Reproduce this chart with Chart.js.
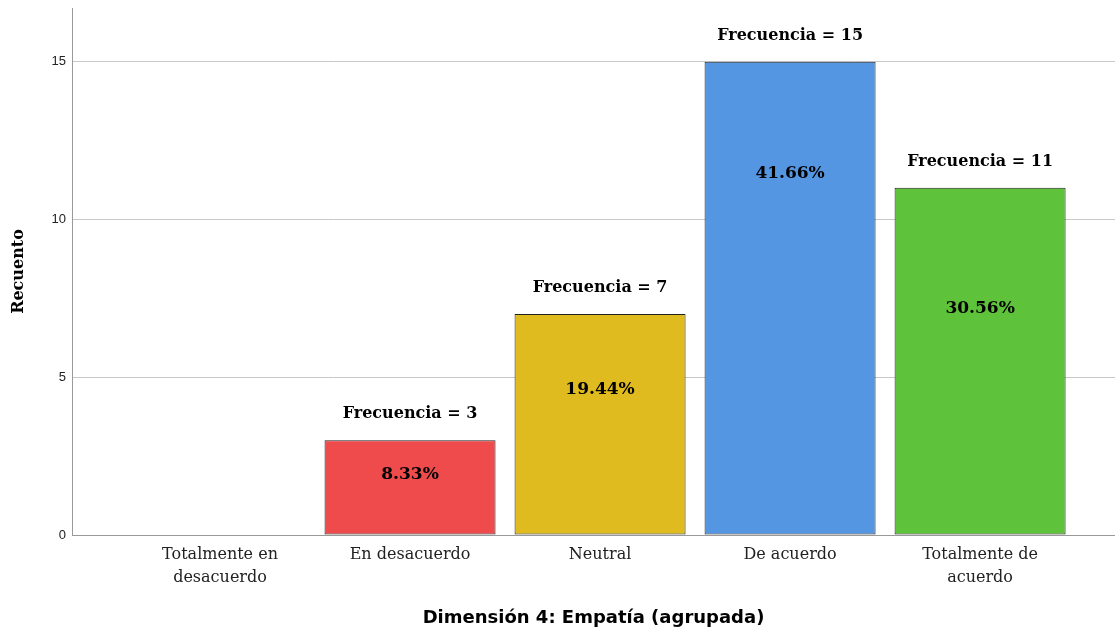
<!DOCTYPE html>
<html>
<head>
<meta charset="utf-8">
<script src="https://cdn.jsdelivr.net/npm/chart.js@4"></script>
<style>
  html, body { margin: 0; padding: 0; background: #fff; }
  #wrap { width: 1115px; height: 629px; }
</style>
</head>
<body>
<div id="wrap"><canvas id="myChart"></canvas></div>
<script>
const categories = [
  ['Totalmente en', 'desacuerdo'],
  'En desacuerdo',
  'Neutral',
  'De acuerdo',
  ['Totalmente de', 'acuerdo'],
];
const counts = [0, 3, 7, 15, 11];
const percents = ['', '8.33%', '19.44%', '41.66%', '30.56%'];
const yTicks = [0, 5, 10, 15];
const colors = ['#ef4a4c', '#ef4a4c', '#e0bb1f', '#5596e3', '#5ec23a'];

// where the % label sits inside each bar (value units)
const pctAt = [0, 1.93, 4.6, 11.45, 7.17];

const barLabels = {
  id: 'barLabels',
  afterDatasetsDraw(chart) {
    const ctx = chart.ctx;
    const meta = chart.getDatasetMeta(0);
    const y = chart.scales.y;
    ctx.save();
    ctx.fillStyle = '#000';
    ctx.textAlign = 'center';
    ctx.textBaseline = 'middle';
    meta.data.forEach((bar, i) => {
      if (!counts[i]) return;
      ctx.font = 'bold 16px "DejaVu Serif", serif';
      ctx.fillText('Frecuencia = ' + counts[i], bar.x, bar.y - 26);
      ctx.font = 'bold 17px "DejaVu Serif", serif';
      ctx.fillText(percents[i], bar.x, y.getPixelForValue(pctAt[i]));
    });
    ctx.restore();
  }
};

const config = {
  type: 'bar',
  data: {
    datasets: [{
      data: counts.map((v, i) => ({ x: i, y: v })),
      backgroundColor: colors,
      borderColor: '#222',
      borderWidth: ctx => (counts[ctx.dataIndex] ? 1 : 0),
      borderSkipped: false,
      barPercentage: 0.9,
      categoryPercentage: 1.0,
    }]
  },
  options: {
    responsive: true,
    maintainAspectRatio: false,
    animation: false,
    layout: { padding: { top: 8, right: 0, left: 0, bottom: 0 } },
    plugins: {
      legend: { display: false },
      tooltip: { enabled: false },
    },
    scales: {
      x: {
        type: 'linear',
        offset: false,
        min: -0.779,
        max: 4.71,
        grid: { display: false, drawTicks: false },
        border: { color: '#999', width: 1 },
        afterBuildTicks: axis => {
          axis.ticks = categories.map((c, i) => ({ value: i }));
        },
        ticks: {
          autoSkip: false,
          maxRotation: 0,
          padding: 9,
          color: '#222',
          font: { family: '"DejaVu Serif", serif', size: 16, lineHeight: 1.4 },
          callback: v => categories[v],
        },
        title: {
          display: true,
          text: 'Dimensión 4: Empatía (agrupada)',
          color: '#000',
          font: { family: '"DejaVu Sans", sans-serif', size: 18, weight: 'bold' },
          padding: { top: 9, bottom: 0 },
        },
        afterFit: axis => { axis.height = 94; },
      },
      y: {
        min: 0,
        max: 16.7,
        afterBuildTicks: axis => {
          axis.ticks = yTicks.map(v => ({ value: v }));
        },
        grid: { color: '#c8c8c8', drawTicks: false },
        border: { color: '#999', width: 1 },
        ticks: {
          padding: 6,
          color: '#222',
          font: { family: 'Arial, "Liberation Sans", sans-serif', size: 13 },
        },
        title: {
          display: true,
          text: 'Recuento',
          color: '#000',
          font: { family: '"DejaVu Serif", serif', size: 16, weight: 'bold' },
          padding: { top: 9, bottom: 0 },
        },
        afterFit: axis => {
          axis.width = 72;
          axis.paddingTop = 0;
          axis.paddingBottom = 0;
        },
      }
    }
  },
  plugins: [barLabels]
};

new Chart(document.getElementById('myChart'), config);
</script>
</body>
</html>
